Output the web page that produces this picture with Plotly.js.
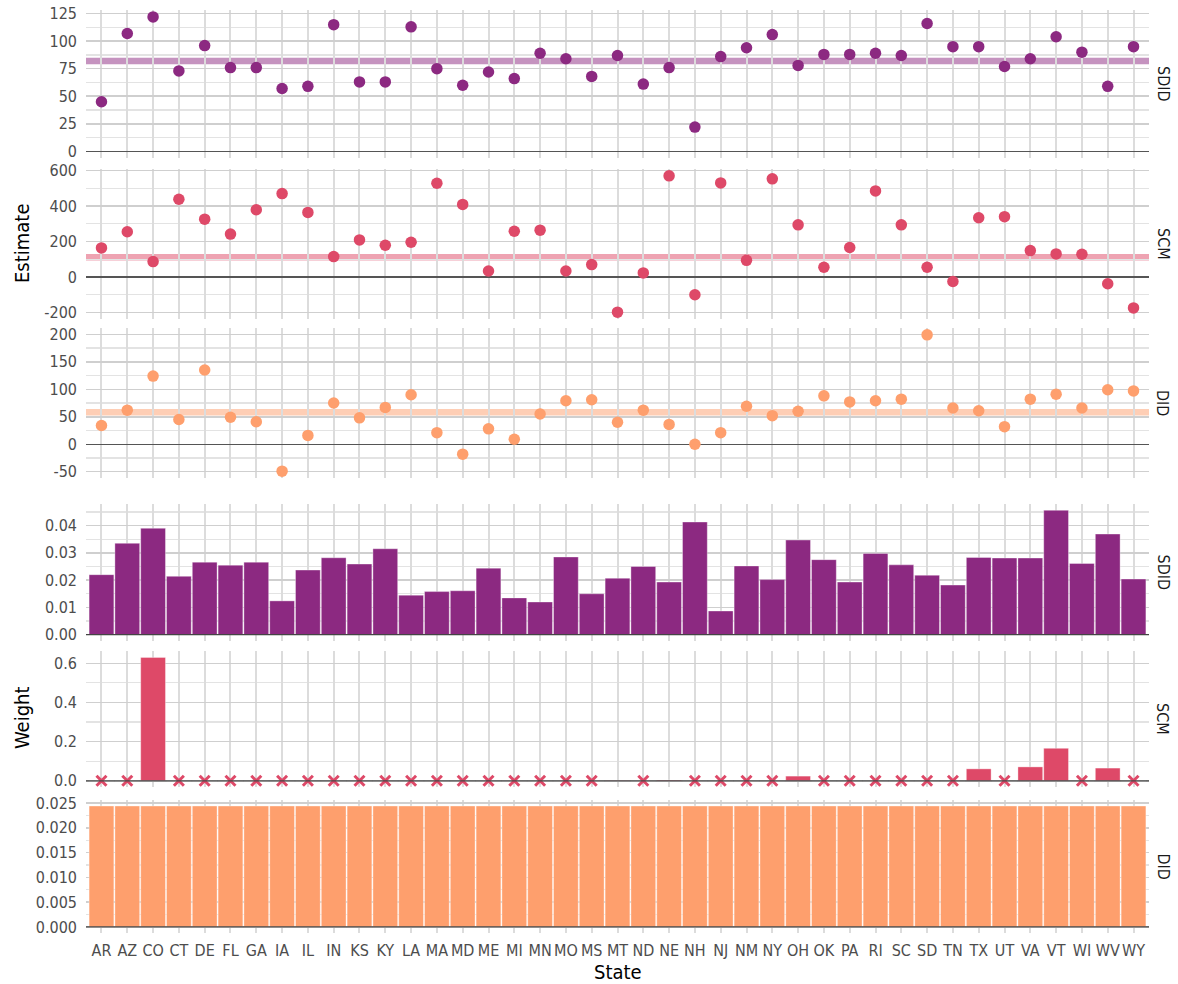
<!DOCTYPE html>
<html>
<head>
<meta charset="utf-8">
<script src="https://cdn.plot.ly/plotly-3.0.1.min.js"></script>
<style>
  html, body { margin: 0; padding: 0; background: #fff; }
  #chart { width: 1178px; height: 984px; }
</style>
</head>
<body>
<div id="chart"></div>
<script>
// Data
const states = ["AR","AZ","CO","CT","DE","FL","GA","IA","IL","IN","KS","KY","LA","MA","MD","ME","MI","MN","MO","MS",
  "MT","ND","NE","NH","NJ","NM","NY","OH","OK","PA","RI","SC","SD","TN","TX","UT","VA","VT","WI","WV","WY"];

const sdidEstimate = [45,107,122,73,96,76,76,57,59,115,63,63,113,75,60,72,66,89,84,68,
  87,61,76,22,86,94,106,78,88,88,89,87,116,95,95,77,84,104,90,59,95];
const scmEstimate = [164,255,87,438,326,242,379,470,364,115,209,179,196,528,409,34,258,264,34,70,
  -198,23,570,-100,530,94,553,294,55,166,485,294,55,-25,334,340,149,130,128,-38,-174];
const didEstimate = [34,62,124,45,135,49,41,-49,16,75,48,67,90,21,-18,28,9,55,79,81,
  40,62,36,0,21,69,52,60,88,77,79,82,199,66,61,32,82,91,66,99,97];

const sdidMean = 82;
const scmMean = 111;
const didMean = 58;

const sdidWeight = [0.0220,0.0335,0.0390,0.0214,0.0266,0.0255,0.0266,0.0124,0.0237,0.0282,0.0259,0.0315,0.0145,0.0158,0.0161,0.0244,0.0135,0.0120,0.0285,0.0150,
  0.0207,0.0250,0.0193,0.0413,0.0087,0.0252,0.0202,0.0347,0.0275,0.0193,0.0298,0.0256,0.0218,0.0182,0.0283,0.0281,0.0281,0.0456,0.0261,0.0369,0.0204];
const scmWeight = [0,0,0.630,0,0,0,0,0,0,0,0,0,0,0,0,0,0,0,0,0,
  0.002,0,0.004,0,0,0,0,0.024,0,0,0,0,0,0,0.061,0,0.071,0.166,0,0.065,0];
const didWeight = [0.0244,0.0244,0.0244,0.0244,0.0244,0.0244,0.0244,0.0244,0.0244,0.0244,0.0244,0.0244,0.0244,0.0244,0.0244,0.0244,0.0244,0.0244,0.0244,0.0244,
  0.0244,0.0244,0.0244,0.0244,0.0244,0.0244,0.0244,0.0244,0.0244,0.0244,0.0244,0.0244,0.0244,0.0244,0.0244,0.0244,0.0244,0.0244,0.0244,0.0244,0.0244];

const W = 1178, H = 984;
const FONT = '"Liberation Sans Narrow", "DejaVu Sans Condensed", Roboto, sans-serif';
const colors = { SDID: "#8c2981", SCM: "#de4968", DID: "#fe9f6d" };

// panel boxes in pixels (top, bottom) and axis settings
const panels = [
  { top: 10,  bottom: 158, range: [-6.1, 128.3],      dtick: 25,    digits: 0, strip: "SDID" },
  { top: 169, bottom: 319, range: [-236.4, 608.4],    dtick: 200,   digits: 0, strip: "SCM" },
  { top: 328, bottom: 478, range: [-61.4, 211.4],     dtick: 50,    digits: 0, strip: "DID" },
  { top: 504, bottom: 641, range: [-0.0023, 0.0479],  dtick: 0.01,  digits: 2, strip: "SDID" },
  { top: 651, bottom: 787, range: [-0.0316, 0.6626],  dtick: 0.2,   digits: 1, strip: "SCM" },
  { top: 800, bottom: 933, range: [-0.00122, 0.02561], dtick: 0.005, digits: 3, strip: "DID" },
];
const xLeft = 86, xRight = 1149;

function tickList(p) {
  const vals = [];
  const start = Math.ceil(p.range[0] / p.dtick - 1e-9);
  for (let k = start; k * p.dtick <= p.range[1] + 1e-12; k++) vals.push(k * p.dtick);
  return {
    vals: vals,
    text: vals.map((v) => (p.digits ? v.toFixed(p.digits) : String(Math.round(v)))),
  };
}

const layout = {
  width: W,
  height: H,
  margin: { l: 0, r: 0, t: 0, b: 0 },
  paper_bgcolor: "#fff",
  plot_bgcolor: "#fff",
  showlegend: false,
  font: { family: FONT, size: 14, color: "#4d4d4d" },
  shapes: [],
  annotations: [],
  bargap: 0.04,
};

panels.forEach((p, i) => {
  const n = i + 1;
  const t = tickList(p);
  const barPanel = n >= 4;
  layout["xaxis" + n] = {
    type: "category",
    categoryorder: "array",
    categoryarray: states,
    range: [-0.6, states.length - 0.4],
    domain: [xLeft / W, xRight / W],
    anchor: "y" + n,
    showgrid: true,
    gridcolor: "#dcdcdc",
    gridwidth: 2,
    zeroline: false,
    showline: false,
    ticks: "",
    showticklabels: n === 6,
    ticklabelstandoff: 6,
    tickfont: { family: FONT, size: 16, color: "#4d4d4d" },
    fixedrange: true,
  };
  layout["yaxis" + n] = {
    domain: [1 - p.bottom / H, 1 - p.top / H],
    anchor: "x" + n,
    range: p.range,
    tickmode: "array",
    tickvals: t.vals,
    ticktext: t.text,
    showgrid: true,
    gridcolor: "#cfcfcf",
    gridwidth: 1.5,
    minor: { tickmode: "linear", tick0: 0, dtick: p.dtick / 2, showgrid: true, gridcolor: "#e3e3e3", gridwidth: 1.2 },
    zeroline: !barPanel,
    zerolinecolor: "#555555",
    zerolinewidth: 1.3,
    showline: false,
    ticks: "",
    ticklabelstandoff: 8,
    tickfont: { family: FONT, size: 16, color: "#4d4d4d" },
    fixedrange: true,
  };
  // weight panels: baseline drawn over the bars
  if (barPanel) {
    layout.shapes.push({
      type: "line", xref: "x" + n + " domain", yref: "y" + n,
      x0: 0, x1: 1, y0: 0, y1: 0,
      line: { color: "#444444", width: 1.3 },
      layer: "above",
    });
  }
  // facet strip on the right
  layout.annotations.push({
    text: p.strip, xref: "paper", yref: "paper",
    x: 1163 / W, y: 1 - (p.top + p.bottom) / 2 / H,
    xanchor: "center", yanchor: "middle",
    showarrow: false, textangle: 90,
    font: { family: FONT, size: 16, color: "#1a1a1a" },
  });
});

// mean lines on estimate panels
[[sdidMean, "SDID"], [scmMean, "SCM"], [didMean, "DID"]].forEach(([m, k], i) => {
  layout.shapes.push({
    type: "line", xref: "x" + (i + 1) + " domain", yref: "y" + (i + 1),
    x0: 0, x1: 1, y0: m, y1: m,
    line: { color: colors[k], width: 6.5 },
    opacity: 0.5,
    layer: "below",
  });
});

// axis titles
layout.annotations.push(
  { text: "Estimate", xref: "paper", yref: "paper", x: 22 / W, y: 1 - 244 / H, showarrow: false, textangle: -90,
    xanchor: "center", yanchor: "middle", font: { family: FONT, size: 20, color: "#000" } },
  { text: "Weight", xref: "paper", yref: "paper", x: 22 / W, y: 1 - 718 / H, showarrow: false, textangle: -90,
    xanchor: "center", yanchor: "middle", font: { family: FONT, size: 20, color: "#000" } },
  { text: "State", xref: "paper", yref: "paper", x: (xLeft + xRight) / 2 / W, y: 1 - 972 / H, showarrow: false,
    xanchor: "center", yanchor: "middle", font: { family: FONT, size: 20, color: "#000" } }
);

function dots(y, color, n) {
  return {
    x: states, y: y, type: "scatter", mode: "markers",
    marker: { color: color, size: 11.5 },
    xaxis: "x" + n, yaxis: "y" + n, hoverinfo: "x+y",
  };
}
function bars(y, color, n) {
  return {
    x: states, y: y, type: "bar",
    marker: { color: color, line: { color: "rgba(255,255,255,0.6)", width: 0.6 } },
    xaxis: "x" + n, yaxis: "y" + n, hoverinfo: "x+y",
  };
}

// zero-weight states for SCM get a cross
const scmZero = states.filter((s, i) => scmWeight[i] === 0);

const traces = [
  dots(sdidEstimate, colors.SDID, 1),
  dots(scmEstimate, colors.SCM, 2),
  dots(didEstimate, colors.DID, 3),
  bars(sdidWeight, colors.SDID, 4),
  bars(scmWeight, colors.SCM, 5),
  bars(didWeight, colors.DID, 6),
  {
    x: scmZero, y: scmZero.map(() => 0), type: "scatter", mode: "markers",
    marker: { symbol: "x-thin", size: 10, line: { color: colors.SCM, width: 3 } },
    xaxis: "x5", yaxis: "y5", hoverinfo: "x",
  },
];

Plotly.newPlot("chart", traces, layout, { displayModeBar: false, staticPlot: true });
</script>
</body>
</html>
